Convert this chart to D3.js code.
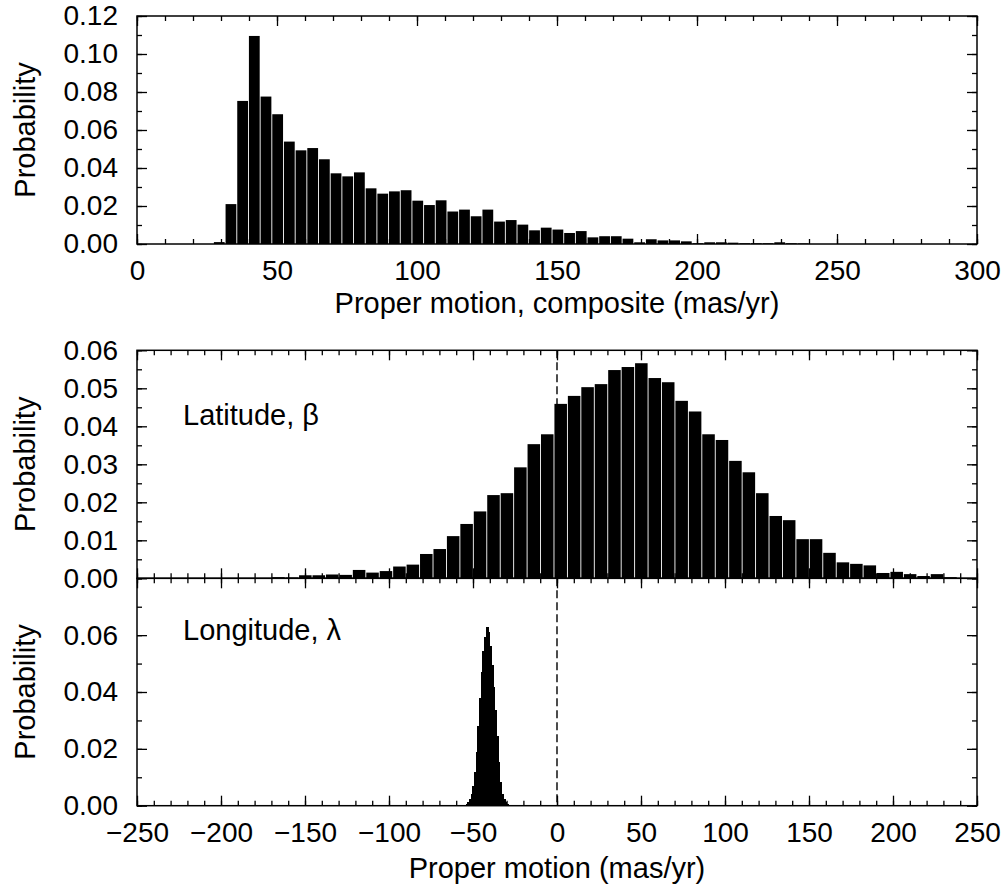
<!DOCTYPE html>
<html>
<head>
<meta charset="utf-8">
<script src="https://cdn.jsdelivr.net/npm/d3@7"></script>
<style>
  body { margin: 0; background: #fff; }
  svg text { font-family: "Liberation Sans", Arial, Helvetica, sans-serif; fill: #000; }
</style>
</head>
<body>
<svg id="chart" width="1008" height="890"></svg>
<script>
// composite proper motion histogram (mas/yr), bins start at compEdge0
const compEdge0 = 27.3;
const compBinWidth = 4.17;
const compProb = [
  0.001, 0.021, 0.0753, 0.1095, 0.0776, 0.0683, 0.0539, 0.0493, 0.0505, 0.0446,
  0.0372, 0.0356, 0.0377, 0.0293, 0.0265, 0.0277, 0.0283, 0.0228, 0.0205, 0.023,
  0.0171, 0.0181, 0.0146, 0.0181, 0.0118, 0.0126, 0.0102, 0.0072, 0.0086, 0.0076,
  0.0058, 0.0068, 0.0035, 0.0041, 0.0041, 0.0028, 0.0009, 0.0025, 0.0019, 0.0019,
  0.0014, 0.0004, 0.0009, 0.0009, 0.0007, 0.0004, 0.0004, 0.0004, 0.0009, 0.0004,
  0.0003
];

// latitude component
const latEdge0 = -169.8;
const latBinWidth = 8;
const latProb = [
  0.0003, 0.0002, 0.0008, 0.0008, 0.001, 0.0009, 0.0022, 0.0015, 0.0019, 0.0031,
  0.0036, 0.0064, 0.0077, 0.0111, 0.0143, 0.0176, 0.0219, 0.0224, 0.0292, 0.0353,
  0.0379, 0.0459, 0.048, 0.0503, 0.0511, 0.0548, 0.0556, 0.0566, 0.0527, 0.0516,
  0.0467, 0.0439, 0.0379, 0.0364, 0.0309, 0.0279, 0.0224, 0.0164, 0.0153, 0.0103,
  0.0103, 0.0067, 0.0042, 0.0038, 0.0034, 0.0014, 0.0017, 0.0011, 0.0006, 0.0011,
  0.0003
];

// longitude component
const lonEdge0 = -56;
const lonBinWidth = 1;
const lonProb = [
  0.0002, 0.0004, 0.0007, 0.0012, 0.0022, 0.004, 0.0068, 0.012, 0.019, 0.028,
  0.038, 0.047, 0.0545, 0.0595, 0.0627, 0.0612, 0.0562, 0.0495, 0.0418, 0.0335,
  0.0245, 0.0155, 0.0085, 0.0042, 0.0022, 0.0012, 0.0007, 0.0004, 0.0002
];

const compMajor = [0, 50, 100, 150, 200, 250, 300];
const compMinor = d3.range(0, 301, 10);
const pmMajor = [-250, -200, -150, -100, -50, 0, 50, 100, 150, 200, 250];
const pmMinor = d3.range(-250, 251, 10);
const topMajor = [0, 0.02, 0.04, 0.06, 0.08, 0.10, 0.12];
const topMinor = d3.range(0, 0.1201, 0.01);
const latMajor = [0, 0.01, 0.02, 0.03, 0.04, 0.05, 0.06];
const latMinor = d3.range(0, 0.0601, 0.005);
const lonMajor = [0, 0.02, 0.04, 0.06];
const lonMinor = d3.range(0, 0.0801, 0.01);

const svg = d3.select('#chart');
const L = 137, R = 977;

const xComp = d3.scaleLinear([0, 300], [L, R]);
const xPm = d3.scaleLinear([-250, 250], [L, R]);
const yTop = d3.scaleLinear([0, 0.12], [244, 16]);
const yLat = d3.scaleLinear([0, 0.06], [578.3, 350.3]);
const yLon = d3.scaleLinear([0, 0.08], [805.7, 578.3]);

function bars(data, edge0, width, x, y, gap) {
    return svg.append('g')
        .selectAll('rect')
        .data(data)
        .enter().append('rect')
        .attr('x', (d, i) => x(edge0 + i * width) + gap / 2)
        .attr('width', (d, i) => Math.max(0.5, x(edge0 + (i + 1) * width) - x(edge0 + i * width) - gap))
        .attr('y', d => y(d))
        .attr('height', d => y(0) - y(d))
        .attr('fill', '#000');
}

function cleanAxis(g) {
    g.select('.domain').remove();
    g.selectAll('line').attr('stroke-width', 1.3);
    g.selectAll('text').style('font-size', '28px');
}

function panel(x, y, xMajor, xMinor, yMajor, yMinor, yFmt, showX) {
    const [y0, y1] = y.range();
    // bottom x, ticks pointing up
    svg.append('g').attr('transform', `translate(0,${y0})`)
        .call(d3.axisBottom(x).tickValues(xMinor).tickSize(-5).tickFormat(''))
        .call(cleanAxis);
    svg.append('g').attr('transform', `translate(0,${y0})`)
        .call(d3.axisBottom(x).tickValues(xMajor).tickSize(-10).tickPadding(16)
            .tickFormat(showX ? (d => String(d).replace('-', '\u2212')) : ''))
        .call(cleanAxis);
    // top x, ticks pointing down
    svg.append('g').attr('transform', `translate(0,${y1})`)
        .call(d3.axisTop(x).tickValues(xMinor).tickSize(-5).tickFormat(''))
        .call(cleanAxis);
    svg.append('g').attr('transform', `translate(0,${y1})`)
        .call(d3.axisTop(x).tickValues(xMajor).tickSize(-10).tickFormat(''))
        .call(cleanAxis);
    // left y
    svg.append('g').attr('transform', `translate(${L},0)`)
        .call(d3.axisLeft(y).tickValues(yMinor).tickSize(-5).tickFormat(''))
        .call(cleanAxis);
    svg.append('g').attr('transform', `translate(${L},0)`)
        .call(d3.axisLeft(y).tickValues(yMajor).tickSize(-10).tickPadding(19).tickFormat(yFmt))
        .call(cleanAxis);
    // right y
    svg.append('g').attr('transform', `translate(${R},0)`)
        .call(d3.axisRight(y).tickValues(yMinor).tickSize(-5).tickFormat(''))
        .call(cleanAxis);
    svg.append('g').attr('transform', `translate(${R},0)`)
        .call(d3.axisRight(y).tickValues(yMajor).tickSize(-10).tickFormat(''))
        .call(cleanAxis);

    svg.append('rect')
        .attr('x', L).attr('y', y1)
        .attr('width', R - L).attr('height', y0 - y1)
        .attr('fill', 'none').attr('stroke', '#000').attr('stroke-width', 1.5);

    svg.append('text')
        .attr('transform', `translate(35,${(y0 + y1) / 2}) rotate(-90)`)
        .attr('text-anchor', 'middle')
        .style('font-size', '29px')
        .text('Probability');
}

const f2 = d3.format('.2f');

// top panel
bars(compProb, compEdge0, compBinWidth, xComp, yTop, 0.9);
panel(xComp, yTop, compMajor, compMinor, topMajor, topMinor, f2, true);
svg.append('text').attr('x', (L + R) / 2).attr('y', 313)
    .attr('text-anchor', 'middle').style('font-size', '29px')
    .text('Proper motion, composite (mas/yr)');

// zero line through both lower panels
svg.append('line')
    .attr('x1', xPm(0)).attr('x2', xPm(0))
    .attr('y1', yLat.range()[1]).attr('y2', yLon.range()[0])
    .attr('stroke', '#000').attr('stroke-width', 1.4)
    .attr('stroke-dasharray', '8,4');

// middle panel
bars(latProb, latEdge0, latBinWidth, xPm, yLat, 0.9);
panel(xPm, yLat, pmMajor, pmMinor, latMajor, latMinor, f2, false);
svg.append('text').attr('x', 183).attr('y', 425)
    .style('font-size', '29px').text('Latitude, \u03b2');

// bottom panel (fine bins, drawn overlapping so no seams show)
bars(lonProb, lonEdge0, lonBinWidth, xPm, yLon, -1.2)
    .attr('shape-rendering', 'crispEdges');
panel(xPm, yLon, pmMajor, pmMinor, lonMajor, lonMinor, f2, true);
svg.append('text').attr('x', 183).attr('y', 640)
    .style('font-size', '29px').text('Longitude, \u03bb');
svg.append('text').attr('x', (L + R) / 2).attr('y', 878)
    .attr('text-anchor', 'middle').style('font-size', '29px')
    .text('Proper motion (mas/yr)');
</script>
</body>
</html>
